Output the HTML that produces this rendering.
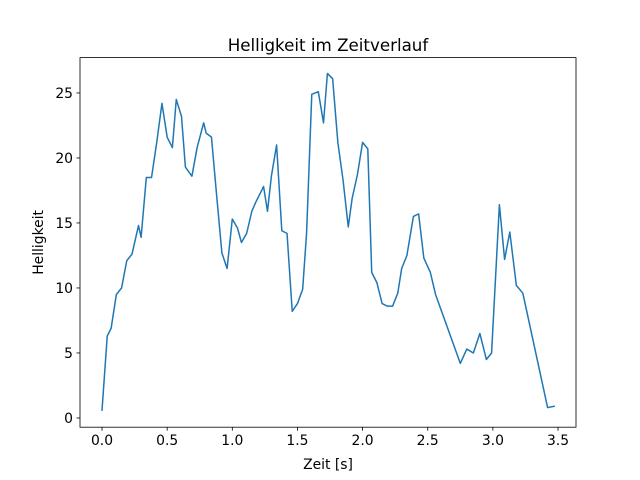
<!DOCTYPE html>
<html><head><meta charset="utf-8"><style>
body{margin:0;background:#fff}
svg{display:block;font-family:"DejaVu Sans","Liberation Sans",sans-serif}
</style></head><body>
<svg id="chart" width="640" height="480"></svg>
<script>
const timeValues=[0.00,0.04,0.07,0.11,0.15,0.19,0.23,0.28,0.30,0.34,0.38,0.42,0.46,0.50,0.54,0.57,0.61,0.64,0.69,0.73,0.78,0.80,0.84,0.88,0.92,0.96,1.00,1.04,1.07,1.11,1.15,1.18,1.24,1.27,1.30,1.34,1.38,1.42,1.46,1.50,1.54,1.57,1.61,1.66,1.70,1.73,1.77,1.81,1.85,1.89,1.92,1.96,2.00,2.04,2.07,2.11,2.15,2.19,2.23,2.27,2.30,2.34,2.39,2.43,2.47,2.52,2.56,2.75,2.80,2.85,2.90,2.95,2.99,3.05,3.09,3.13,3.18,3.23,3.42,3.47];
const brightnessValues=[0.6,6.3,6.9,9.5,10.0,12.1,12.6,14.8,13.9,18.5,18.5,21.2,24.2,21.6,20.8,24.5,23.2,19.3,18.6,20.8,22.7,21.9,21.6,17.1,12.7,11.5,15.3,14.6,13.5,14.2,15.9,16.6,17.8,15.9,18.6,21.0,14.4,14.2,8.2,8.8,9.9,14.2,24.9,25.1,22.7,26.5,26.1,21.2,18.3,14.7,16.9,18.7,21.2,20.7,11.2,10.4,8.8,8.6,8.6,9.6,11.5,12.5,15.5,15.7,12.3,11.2,9.5,4.2,5.3,5.0,6.5,4.5,5.0,16.4,12.2,14.3,10.2,9.6,0.8,0.9];
const xTicks=[0.0,0.5,1.0,1.5,2.0,2.5,3.0,3.5];
const xTickLabels=["0.0","0.5","1.0","1.5","2.0","2.5","3.0","3.5"];
const yTicks=[0,5,10,15,20,25];
const yTickLabels=["0","5","10","15","20","25"];

const L=80,R=576,T=57.6,B=427.2;
const xMin=-0.169,xMax=3.638,yMin=-0.71,yMax=27.72;
const sx=v=>L+(v-xMin)/(xMax-xMin)*(R-L);
const sy=v=>B-(v-yMin)/(yMax-yMin)*(B-T);
const svg=document.getElementById('chart');
const NS='http://www.w3.org/2000/svg';
function mk(tag,attrs,parent){const e=document.createElementNS(NS,tag);for(const k in attrs)e.setAttribute(k,attrs[k]);(parent||svg).appendChild(e);return e;}

let d='';
timeValues.forEach((t,i)=>{d+=(i?'L':'M')+sx(t).toFixed(2)+','+sy(brightnessValues[i]).toFixed(2);});
const line=mk('path',{d:d,fill:'none',stroke:'#1f77b4','stroke-width':1.5,'stroke-linejoin':'round','stroke-linecap':'square'});



const frame=mk('rect',{x:L,y:T,width:R-L,height:B-T,fill:'none',stroke:'#000','stroke-width':0.8});



xTicks.forEach((v,i)=>{
  const x=sx(v);
  const tk=mk('line',{x1:x,x2:x,y1:B,y2:B+3.5,stroke:'#000','stroke-width':0.8});
  
  
  const tx=mk('text',{x:x,y:B+18,'text-anchor':'middle','font-size':13.9,fill:'#000'});
  tx.textContent=xTickLabels[i];
  
  
});
yTicks.forEach((v,i)=>{
  const y=sy(v);
  const tk=mk('line',{x1:L-3.5,x2:L,y1:y,y2:y,stroke:'#000','stroke-width':0.8});
  
  
  const tx=mk('text',{x:L-7,y:y+5,'text-anchor':'end','font-size':13.9,fill:'#000'});
  tx.textContent=yTickLabels[i];
  
  
});
const title=mk('text',{x:(L+R)/2,y:51,'text-anchor':'middle','font-size':16.7,fill:'#000'});
title.textContent='Helligkeit im Zeitverlauf';


const xl=mk('text',{x:(L+R)/2,y:469,'text-anchor':'middle','font-size':13.9,fill:'#000'});
xl.textContent='Zeit [s]';


const yl=mk('text',{x:0,y:0,'text-anchor':'middle','font-size':13.9,fill:'#000',transform:'translate(43,'+((T+B)/2)+') rotate(-90)'});
yl.textContent='Helligkeit';


</script>
</body></html>
